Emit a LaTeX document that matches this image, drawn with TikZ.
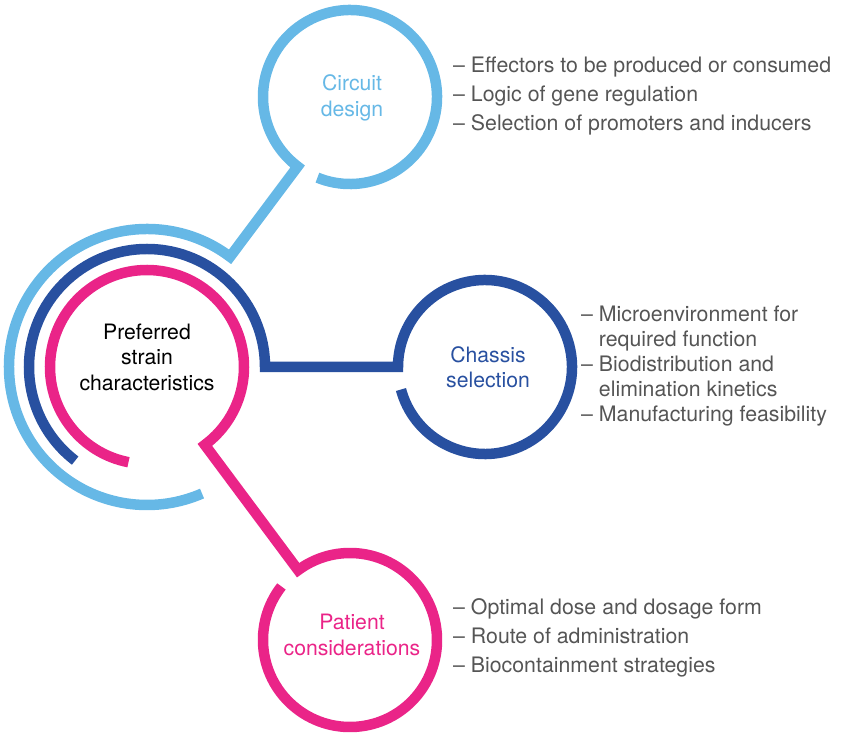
\documentclass[tikz,border=0pt]{standalone}
\usepackage{fontspec}
\setmainfont{TeX Gyre Heros}
\usetikzlibrary{calc}
\definecolor{lblue}{RGB}{102,184,230}
\definecolor{dblue}{RGB}{40,80,160}
\definecolor{pinkc}{RGB}{234,36,136}
\definecolor{listgray}{RGB}{85,85,85}
\begin{document}
\begin{tikzpicture}[x=1pt,y=1pt,
  ring/.style={line width=10.5pt, line join=miter, miter limit=10},
  lbl/.style={align=center, inner sep=0pt, font=\fontsize{21.2}{25.5}\selectfont},
  lst/.style={align=left, anchor=west, inner sep=0pt, text=listgray}]
\useasboundingbox (0,0) rectangle (843,734);
\coordinate (C) at (147,367);
\coordinate (CD) at (350,637);
\coordinate (CS) at (485,367);
\coordinate (PC) at (350,94);
% circuit design (light blue)
\draw[ring, lblue] ($(CD)+(248:87)$) arc[start angle=248, end angle=593, radius=87]
  -- ($(C)+(53:138)$) arc[start angle=53, end angle=293.5, radius=138];
% chassis selection (dark blue)
\draw[ring, dblue] ($(CS)+(195:87)$) arc[start angle=195, end angle=540, radius=87]
  -- ($(C)+(0:118)$) arc[start angle=0, end angle=232.5, radius=118];
% patient considerations (pink)
\draw[ring, pinkc] ($(PC)+(142:87)$) arc[start angle=142, end angle=486.6, radius=87]
  -- ($(C)+(-53.4:97)$) arc[start angle=-53.4, end angle=259, radius=97];
% labels
\node[lbl] (center) at (147,377) {Preferred\\strain\\characteristics};
\node[lbl, text=lblue] (cdl) at (352,636) {Circuit\\design};
\node[lbl, text=dblue] (csl) at (488,367) {Chassis\\selection};
\node[lbl, text=pinkc] (pcl) at (352,99) {Patient\\considerations};
% lists
\node[lst, font=\fontsize{21.3}{29}\selectfont] (cdlist) at (453,638)
  {– Effectors to be produced or consumed\\– Logic of gene regulation\\– Selection of promoters and inducers};
\node[lst, font=\fontsize{21.3}{25}\selectfont] (cslist) at (581,368)
  {– Microenvironment for\\\hphantom{–\ }required function\\– Biodistribution and\\\hphantom{–\ }elimination kinetics\\– Manufacturing feasibility};
\node[lst, font=\fontsize{21.3}{29}\selectfont] (pclist) at (453,96)
  {– Optimal dose and dosage form\\– Route of administration\\– Biocontainment strategies};
\end{tikzpicture}
\end{document}
